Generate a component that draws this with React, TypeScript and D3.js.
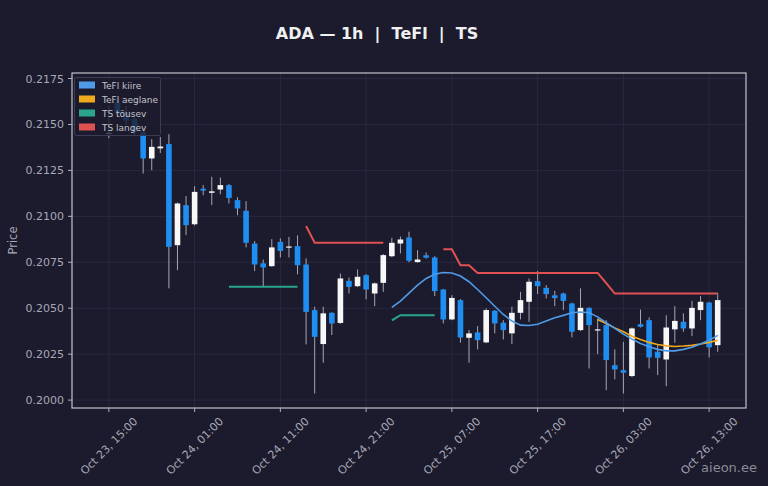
import React from "react";
import * as d3 from "d3";

const W = 768;
const H = 486;
const BG = "#1b1b2d";

const startHour = Date.UTC(2024, 9, 23, 15);
const HOUR = 3600 * 1000;

const opens = [
  0.21448, 0.2162, 0.2157, 0.2153, 0.2146, 0.21315, 0.2137, 0.21393, 0.20843, 0.21061,
  0.20957, 0.2115, 0.21128, 0.21146, 0.2117, 0.21088, 0.2103, 0.20852, 0.20744, 0.20729,
  0.20861, 0.20832, 0.20838, 0.20738, 0.2049, 0.20305, 0.20475, 0.2042, 0.20649, 0.2062,
  0.2068, 0.2058, 0.20638, 0.20783, 0.20852, 0.20885, 0.20751, 0.20788, 0.20776, 0.20602,
  0.20439, 0.20544, 0.20339, 0.20368, 0.20314, 0.20486, 0.20421, 0.20363, 0.20475, 0.20535,
  0.20647, 0.20611, 0.2057, 0.2058, 0.20526, 0.20381, 0.20502, 0.2038, 0.20408, 0.2019,
  0.20163, 0.20131, 0.20413, 0.20435, 0.20263, 0.20221, 0.20385, 0.20426, 0.2039, 0.2049,
  0.20531, 0.20299,
];
const highs = [
  0.216, 0.2164, 0.216, 0.2155, 0.2148, 0.2142, 0.21432, 0.21447, 0.21075, 0.2111,
  0.21164, 0.2117, 0.21215, 0.21211, 0.21175, 0.21104, 0.21083, 0.20865, 0.20765, 0.20876,
  0.2088, 0.20888, 0.20896, 0.20771, 0.20508, 0.20508, 0.20478, 0.20689, 0.20667, 0.20711,
  0.20685, 0.2064, 0.20795, 0.20883, 0.2089, 0.20916, 0.20816, 0.20803, 0.20783, 0.20605,
  0.20571, 0.2055, 0.20381, 0.20403, 0.20499, 0.2049, 0.20435, 0.20508, 0.20589, 0.20662,
  0.20703, 0.20626, 0.20595, 0.20585, 0.2053, 0.20608, 0.20505, 0.20445, 0.20435, 0.20276,
  0.20317, 0.20395, 0.20493, 0.2045, 0.20299, 0.20462, 0.20511, 0.20472, 0.2054, 0.20566,
  0.20535, 0.20584,
];
const lows = [
  0.21425, 0.2154, 0.215, 0.2144, 0.21233, 0.21251, 0.21344, 0.20608, 0.20707, 0.20898,
  0.2095, 0.21115, 0.21061, 0.2112, 0.2107, 0.21006, 0.20831, 0.20702, 0.2062, 0.20725,
  0.20776, 0.20776, 0.20684, 0.20303, 0.20036, 0.20203, 0.20354, 0.20415, 0.2058, 0.20615,
  0.20548, 0.20511, 0.20589, 0.20778, 0.20798, 0.2075, 0.20748, 0.2077, 0.20566, 0.20417,
  0.20435, 0.20312, 0.20203, 0.20276, 0.2031, 0.20363, 0.2033, 0.20305, 0.20439, 0.20426,
  0.20577, 0.20553, 0.20511, 0.2049, 0.20341, 0.20375, 0.20172, 0.2025, 0.20054, 0.20113,
  0.20036, 0.20125, 0.20395, 0.20172, 0.20136, 0.20076, 0.20312, 0.20372, 0.20348, 0.20435,
  0.20232, 0.20263,
];
const closes = [
  0.21455, 0.2156, 0.2152, 0.2146, 0.21315, 0.21378, 0.2138, 0.20834, 0.2107, 0.20952,
  0.21133, 0.2114, 0.21136, 0.2117, 0.211, 0.21043, 0.20856, 0.20738, 0.20722, 0.20831,
  0.20812, 0.20836, 0.20734, 0.2048, 0.20344, 0.20472, 0.20417, 0.20662, 0.20616, 0.20671,
  0.20602, 0.20635, 0.20789, 0.20856, 0.20874, 0.20758, 0.20765, 0.20775, 0.20593, 0.20439,
  0.20556, 0.20341, 0.20363, 0.20326, 0.2049, 0.20417, 0.20381, 0.20475, 0.20544, 0.20644,
  0.2062, 0.20577, 0.20555, 0.2054, 0.20372, 0.20502, 0.20408, 0.20385, 0.20218, 0.20167,
  0.20149, 0.2039, 0.20399, 0.20232, 0.2023, 0.20395, 0.20431, 0.2039, 0.20502, 0.20535,
  0.20287, 0.20544,
];

// TeFl kiire from candle 33
const tefiFastStart = 33;
const tefiFast = [
  0.20504, 0.20539, 0.20582, 0.20626, 0.20662, 0.20685, 0.20694, 0.20692, 0.20675, 0.20644,
  0.20602, 0.20557, 0.20511, 0.20466, 0.2043, 0.20408, 0.20406, 0.20413, 0.2043, 0.20448,
  0.20461, 0.20475, 0.20479, 0.20475, 0.20453, 0.20421, 0.2039, 0.20359, 0.20332, 0.20308,
  0.2029, 0.20276, 0.20268, 0.20268, 0.20276, 0.20287, 0.20305, 0.20326, 0.20352,
];
// TeFl aeglane from candle 57
const tefiSlowStart = 57;
const tefiSlow = [
  0.20439, 0.20417, 0.20393, 0.20372, 0.20348, 0.2033, 0.20314, 0.20303, 0.20295, 0.20292,
  0.20294, 0.20298, 0.20305, 0.20314, 0.20325,
];
// TS tõusev segments: [start index, values]
const tsUpSegments: [number, number[]][] = [
  [14, [0.20617, 0.20617, 0.20617, 0.20617, 0.20617, 0.20617, 0.20617, 0.20617, 0.20617]],
  [33, [0.20434, 0.20462, 0.20462, 0.20462, 0.20462, 0.20462]],
];
// TS langev segments
const tsDownSegments: [number, number[]][] = [
  [23, [0.20947, 0.20856, 0.20856, 0.20856, 0.20856, 0.20856, 0.20856, 0.20856, 0.20856, 0.20856]],
  [39, [
    0.20821, 0.20821, 0.20734, 0.20734, 0.20692, 0.20692, 0.20692, 0.20692, 0.20692, 0.20692,
    0.20692, 0.20692, 0.20692, 0.20692, 0.20692, 0.20692, 0.20692, 0.20692, 0.20692, 0.20636,
    0.2058, 0.2058, 0.2058, 0.2058, 0.2058, 0.2058, 0.2058, 0.2058, 0.2058, 0.2058,
    0.2058, 0.2058, 0.2058,
  ]],
];

const yTicks = [0.2, 0.2025, 0.205, 0.2075, 0.21, 0.2125, 0.215, 0.2175];
const xTickHours = [0, 10, 20, 30, 40, 50, 60, 70];

const legendItems = [
  { label: "TeFl kiire", color: "#4f9be8" },
  { label: "TeFl aeglane", color: "#f0a81c" },
  { label: "TS tõusev", color: "#2aa58c" },
  { label: "TS langev", color: "#e05252" },
];

const UP = "#f7f7f7";
const DOWN = "#1f8ef1";
const WICK = "#a6a6b2";

export default function App() {
  const left = 72, right = 746, top = 73, bottom = 408;
  const t = (i: number) => new Date(startHour + i * HOUR);
  const x = d3.scaleUtc().domain([t(-4.3), t(74.3)]).range([left, right]);
  const y = d3.scaleLinear().domain([0.19957, 0.2178]).range([bottom, top]);
  const fmt = d3.utcFormat("%b %d, %H:%M");
  const bw = 5.6;

  const line = d3
    .line<[number, number]>()
    .x((d) => x(t(d[0])))
    .y((d) => y(d[1]));

  const seg = (start: number, vals: number[]) =>
    line(vals.map((v, k) => [start + k, v] as [number, number])) || "";

  const font = "DejaVu Sans, Verdana, sans-serif";

  return (
    <svg width={W} height={H} style={{ position: "absolute", left: 0, top: 0, background: BG }}>
      <rect x={0} y={0} width={W} height={H} fill={BG} />
      <text x={377} y={39} textAnchor="middle" fill="#f0f0f0" fontSize={16} fontWeight="bold" fontFamily={font} style={{ whiteSpace: "pre" }}>
        {"ADA — 1h  |  TeFl  |  TS"}
      </text>
      {/* grid */}
      {yTicks.map((v) => (
        <line key={"gy" + v} x1={left} x2={right} y1={y(v)} y2={y(v)} stroke="#2c2c44" strokeWidth={0.8} />
      ))}
      {xTickHours.map((h) => (
        <line key={"gx" + h} x1={x(t(h))} x2={x(t(h))} y1={top} y2={bottom} stroke="#2c2c44" strokeWidth={0.8} />
      ))}
      {/* candles */}
      {opens.map((o, i) => {
        const c = closes[i];
        const up = c >= o;
        const cx = x(t(i));
        const yt = y(Math.max(o, c));
        const yb = y(Math.min(o, c));
        return (
          <g key={"c" + i}>
            <line x1={cx} x2={cx} y1={y(highs[i])} y2={y(lows[i])} stroke={WICK} strokeWidth={1} />
            <rect x={cx - bw / 2} y={yt} width={bw} height={Math.max(1.2, yb - yt)} fill={up ? UP : DOWN} />
          </g>
        );
      })}
      {/* indicator lines */}
      {tsUpSegments.map(([s, v], k) => (
        <path key={"up" + k} d={seg(s, v)} fill="none" stroke="#2aa58c" strokeWidth={2} />
      ))}
      {tsDownSegments.map(([s, v], k) => (
        <path key={"dn" + k} d={seg(s, v)} fill="none" stroke="#e05252" strokeWidth={2} />
      ))}
      <path d={seg(tefiSlowStart, tefiSlow)} fill="none" stroke="#f0a81c" strokeWidth={1.6} />
      <path d={seg(tefiFastStart, tefiFast)} fill="none" stroke="#4f9be8" strokeWidth={1.6} />
      {/* frame */}
      <rect x={left} y={top} width={right - left} height={bottom - top} fill="none" stroke="#c4c4cc" strokeWidth={1.2} />
      {/* y axis */}
      {yTicks.map((v) => (
        <g key={"yt" + v}>
          <line x1={left - 4} x2={left} y1={y(v)} y2={y(v)} stroke="#b0b0bc" strokeWidth={1} />
          <text x={left - 8} y={y(v) + 4} textAnchor="end" fill="#a8a8b6" fontSize={11} fontFamily={font}>
            {d3.format(".4f")(v)}
          </text>
        </g>
      ))}
      <text transform={`translate(17,${(top + bottom) / 2}) rotate(-90)`} textAnchor="middle" fill="#a8a8b6" fontSize={11.5} fontFamily={font}>
        Price
      </text>
      {/* x axis */}
      {xTickHours.map((h) => {
        const px = x(t(h));
        return (
          <g key={"xt" + h}>
            <line x1={px} x2={px} y1={bottom} y2={bottom + 4} stroke="#b0b0bc" strokeWidth={1} />
            <text
              transform={`translate(${px},${bottom + 38}) rotate(-45)`}
              textAnchor="middle"
              dy="0.35em"
              fill="#a8a8b6"
              fontSize={11}
              fontFamily={font}
            >
              {fmt(t(h))}
            </text>
          </g>
        );
      })}
      {/* legend */}
      <rect x={74.5} y={77.5} width={86} height={58} rx={2} fill={BG} fillOpacity={0.8} stroke="#3c3c54" strokeWidth={1} />
      {legendItems.map((it, k) => (
        <g key={it.label}>
          <rect x={79} y={81.5 + k * 14} width={16} height={7} fill={it.color} />
          <text x={102} y={88.5 + k * 14} fill="#c4c4cc" fontSize={9} fontFamily={font}>
            {it.label}
          </text>
        </g>
      ))}
      <text x={757} y={472} textAnchor="end" fill="#8a8a96" fontSize={13} fontFamily={font}>
        aieon.ee
      </text>
    </svg>
  );
}
